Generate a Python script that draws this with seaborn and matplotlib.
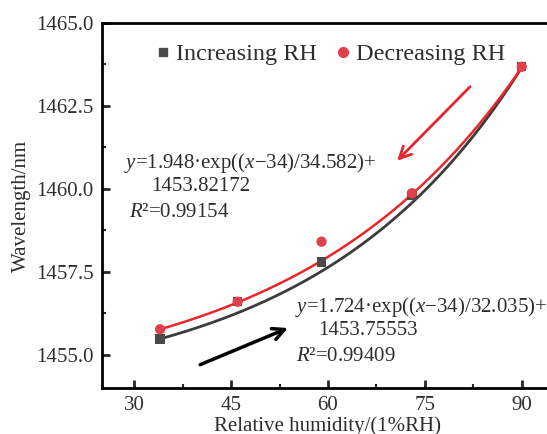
import numpy as np
import pandas as pd
import matplotlib
matplotlib.use("Agg")
import matplotlib.pyplot as plt
import seaborn as sns
from matplotlib.ticker import MultipleLocator, FormatStrFormatter
from matplotlib.lines import Line2D

# ---- data ----
rh = [34, 46, 59, 73, 90]
inc_wl = [1455.48, 1456.60, 1457.80, 1459.80, 1463.68]
dec_wl = [1455.77, 1456.60, 1458.41, 1459.87, 1463.68]

# fit parameters shown in the chart: y = A*exp((x-x0)/t) + y0
inc_fit = dict(A=1.724, x0=34, t=32.035, y0=1453.75553)
dec_fit = dict(A=1.948, x0=34, t=34.582, y0=1453.82172)

xticks = [30, 45, 60, 75, 90]
yticks = [1455.0, 1457.5, 1460.0, 1462.5, 1465.0]

sns.set_theme(style="ticks")
plt.rcParams['font.family'] = ['Liberation Serif', 'DejaVu Serif']
plt.rcParams['mathtext.fontset'] = 'custom'
plt.rcParams['mathtext.rm'] = 'Liberation Serif'
plt.rcParams['mathtext.it'] = 'Liberation Serif:italic'

RED = '#e8262c'
RED_M = '#e0404a'
GRAY_L = '#3c3c3c'
GRAY_M = '#4a4a4a'
TXT = '#2e2e2e'

fig = plt.figure(figsize=(5.47, 4.34), dpi=100)
ax = fig.add_axes([102/547, 1-388/434, (554-102)/547, (388-23)/434])

def fit_curve(p):
    xs = np.linspace(min(rh), max(rh), 200)
    return xs, p['A']*np.exp((xs-p['x0'])/p['t']) + p['y0']

xi, yi = fit_curve(inc_fit)
xd, yd = fit_curve(dec_fit)
sns.lineplot(x=xi, y=yi, ax=ax, color=GRAY_L, lw=2.0, zorder=2)
sns.lineplot(x=xd, y=yd, ax=ax, color=RED, lw=1.8, zorder=3)

sns.scatterplot(x=rh, y=inc_wl, ax=ax, marker='s', s=45, color=GRAY_M,
                edgecolor='none', zorder=4)
sns.scatterplot(x=rh, y=dec_wl, ax=ax, marker='o', s=55, color=RED_M,
                edgecolor='none', zorder=5)

ax.set_xlim(25, 95)
ax.set_ylim(1454, 1465)
ax.set_xticks(xticks)
ax.set_yticks(yticks)
ax.xaxis.set_minor_locator(MultipleLocator(7.5))
ax.yaxis.set_minor_locator(MultipleLocator(1.25))
ax.yaxis.set_major_formatter(FormatStrFormatter('%.1f'))
ax.tick_params(which='major', direction='in', length=6, width=2, labelsize=15,
               labelcolor=TXT, pad=6, top=False, right=False)
ax.tick_params(which='minor', direction='in', length=3, width=1.5,
               top=False, right=False)
for s in ['left', 'bottom', 'top']:
    ax.spines[s].set_linewidth(2)
    ax.spines[s].set_color('black')
ax.spines['right'].set_visible(False)

ax.set_xlabel('Relative humidity/(1%RH)', fontsize=15, color=TXT, labelpad=1)
ax.set_ylabel('Wavelength/nm', fontsize=15, color=TXT, labelpad=4)

# legend
handles = [Line2D([], [], marker='s', ls='none', color=GRAY_M, markersize=6),
           Line2D([], [], marker='o', ls='none', color=RED_M, markersize=7)]
ax.legend(handles, ['Increasing RH', 'Decreasing RH'], ncol=2, frameon=False,
          loc='upper left', bbox_to_anchor=(0.065, 1.005), fontsize=17.5,
          handletextpad=0.15, columnspacing=0.65, handlelength=0.8,
          labelcolor=TXT)

# equations
fs = 15
ax.text(28.4, 1460.79, r'$\mathit{y}$=1.948·exp(($\mathit{x}$−34)/34.582)+',
        fontsize=fs, color=TXT, ha='left', va='center')
ax.text(32.6, 1460.07, '1453.82172', fontsize=fs, color=TXT, ha='left', va='center')
ax.text(29.2, 1459.29, r'$\mathit{R}$²=0.99154', fontsize=fs, color=TXT,
        ha='left', va='center')
ax.text(54.95, 1456.44, r'$\mathit{y}$=1.724·exp(($\mathit{x}$−34)/32.035)+',
        fontsize=fs, color=TXT, ha='left', va='center')
ax.text(58.5, 1455.72, '1453.75553', fontsize=fs, color=TXT, ha='left', va='center')
ax.text(55.0, 1454.96, r'$\mathit{R}$²=0.99409', fontsize=fs, color=TXT,
        ha='left', va='center')

# arrows
ax.annotate('', xy=(70.4, 1460.79), xytext=(82.3, 1463.14),
            arrowprops=dict(arrowstyle='->,head_length=0.7,head_width=0.35',
                            color=RED, lw=2))
ax.annotate('', xy=(54.2, 1455.84), xytext=(39.8, 1454.67),
            arrowprops=dict(arrowstyle='->,head_length=0.7,head_width=0.35',
                            color='black', lw=2.5))

fig.savefig('out.png', dpi=100)
